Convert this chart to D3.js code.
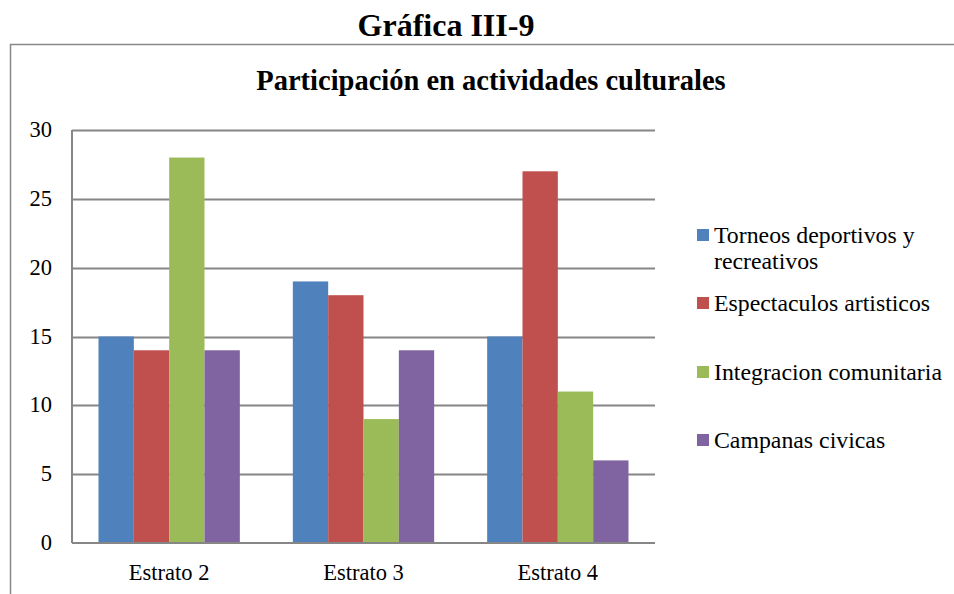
<!DOCTYPE html>
<html>
<head>
<meta charset="utf-8">
<script src="https://cdn.jsdelivr.net/npm/d3@7"></script>
<style>
  body { margin: 0; background: #fff; }
</style>
</head>
<body>
<div id="chart"></div>
<script>
var categories = ["Estrato 2", "Estrato 3", "Estrato 4"]
var seriesNames = ["Torneos deportivos y recreativos", "Espectaculos artisticos", "Integracion comunitaria", "Campanas civicas"]
var torneos = [15, 19, 15]
var espectaculos = [14, 18, 27]
var integracion = [28, 9, 11]
var campanas = [14, 14, 6]
var yTicks = [0, 5, 10, 15, 20, 25, 30]
var colors = ["#4F81BD", "#C0504D", "#9BBB59", "#8064A2"]

var FONT = "Liberation Serif"
var W = 954, H = 594
var margin = {top: 130, right: 299, bottom: 51, left: 72}
var width = W - margin.left - margin.right
var height = H - margin.top - margin.bottom

var svg = d3.select("#chart").append("svg")
  .attr("width", W)
  .attr("height", H)

// outer box
svg.append("rect")
  .attr("x", 10.5).attr("y", 44.5)
  .attr("width", 960).attr("height", 600)
  .attr("fill", "none")
  .attr("stroke", "#888")
  .attr("stroke-width", 1.5)

svg.append("text")
  .attr("x", 446).attr("y", 36)
  .attr("text-anchor", "middle")
  .attr("font-family", FONT)
  .attr("font-size", 32).attr("font-weight", "bold")
  .text("Gráfica III-9")

svg.append("text")
  .attr("x", 491).attr("y", 90)
  .attr("text-anchor", "middle")
  .attr("font-family", FONT)
  .attr("font-size", 28.5).attr("font-weight", "bold")
  .text("Participación en actividades culturales")

var g = svg.append("g")
  .attr("transform", "translate(" + margin.left + "," + margin.top + ")")

var x0 = d3.scaleBand().domain(categories).range([0, width]).paddingInner(0).paddingOuter(0)
var x1 = d3.scaleBand().domain(d3.range(4)).range([26.5, x0.bandwidth() - 26.5])
var y = d3.scaleLinear().domain([0, 30]).range([height, 0])

// gridlines
g.selectAll(".grid").data(yTicks.slice(1)).enter().append("line")
  .attr("x1", 0).attr("x2", width)
  .attr("y1", d => Math.round(y(d)) + 0.5).attr("y2", d => Math.round(y(d)) + 0.5)
  .attr("stroke", "#868686").attr("stroke-width", 2)

var data = categories.map(function(c, i) {
  return [torneos[i], espectaculos[i], integracion[i], campanas[i]]
})

var groups = g.selectAll(".cat").data(data).enter().append("g")
  .attr("transform", (d, i) => "translate(" + x0(categories[i]) + ",0)")

groups.selectAll("rect").data(d => d).enter().append("rect")
  .attr("x", (d, j) => x1(j))
  .attr("width", x1.bandwidth())
  .attr("y", d => y(d))
  .attr("height", d => height - y(d))
  .attr("fill", (d, j) => colors[j])

// axes lines
g.append("line").attr("x1", 0).attr("x2", 0).attr("y1", 0).attr("y2", height)
  .attr("stroke", "#868686").attr("stroke-width", 2)
g.append("line").attr("x1", 0).attr("x2", width).attr("y1", height).attr("y2", height)
  .attr("stroke", "#868686").attr("stroke-width", 2)

g.selectAll(".ylab").data(yTicks).enter().append("text")
  .attr("x", -20).attr("y", d => y(d) + 7)
  .attr("text-anchor", "end")
  .attr("font-family", FONT)
  .attr("font-size", 22.5)
  .text(d => d)

g.selectAll(".xlab").data(categories).enter().append("text")
  .attr("x", d => x0(d) + x0.bandwidth() / 2)
  .attr("y", height + 37)
  .attr("text-anchor", "middle")
  .attr("font-family", FONT)
  .attr("font-size", 22.5)
  .text(d => d)

// legend
var legY = [235, 303, 372, 440]
var leg = svg.selectAll(".leg").data(seriesNames).enter().append("g")
  .attr("transform", (d, i) => "translate(697," + legY[i] + ")")
leg.append("rect").attr("x", 0).attr("y", -6).attr("width", 12).attr("height", 12)
  .attr("fill", (d, i) => colors[i])
leg.append("text").attr("x", 17).attr("y", 7.5)
  .attr("font-family", FONT)
  .attr("font-size", 23.8)
  .each(function(d, i) {
    var t = d3.select(this)
    if (i === 0) {
      t.append("tspan").attr("x", 17).text("Torneos deportivos y")
      t.append("tspan").attr("x", 17).attr("dy", 26).text("recreativos")
    } else {
      t.text(d)
    }
  })
</script>
</body>
</html>
